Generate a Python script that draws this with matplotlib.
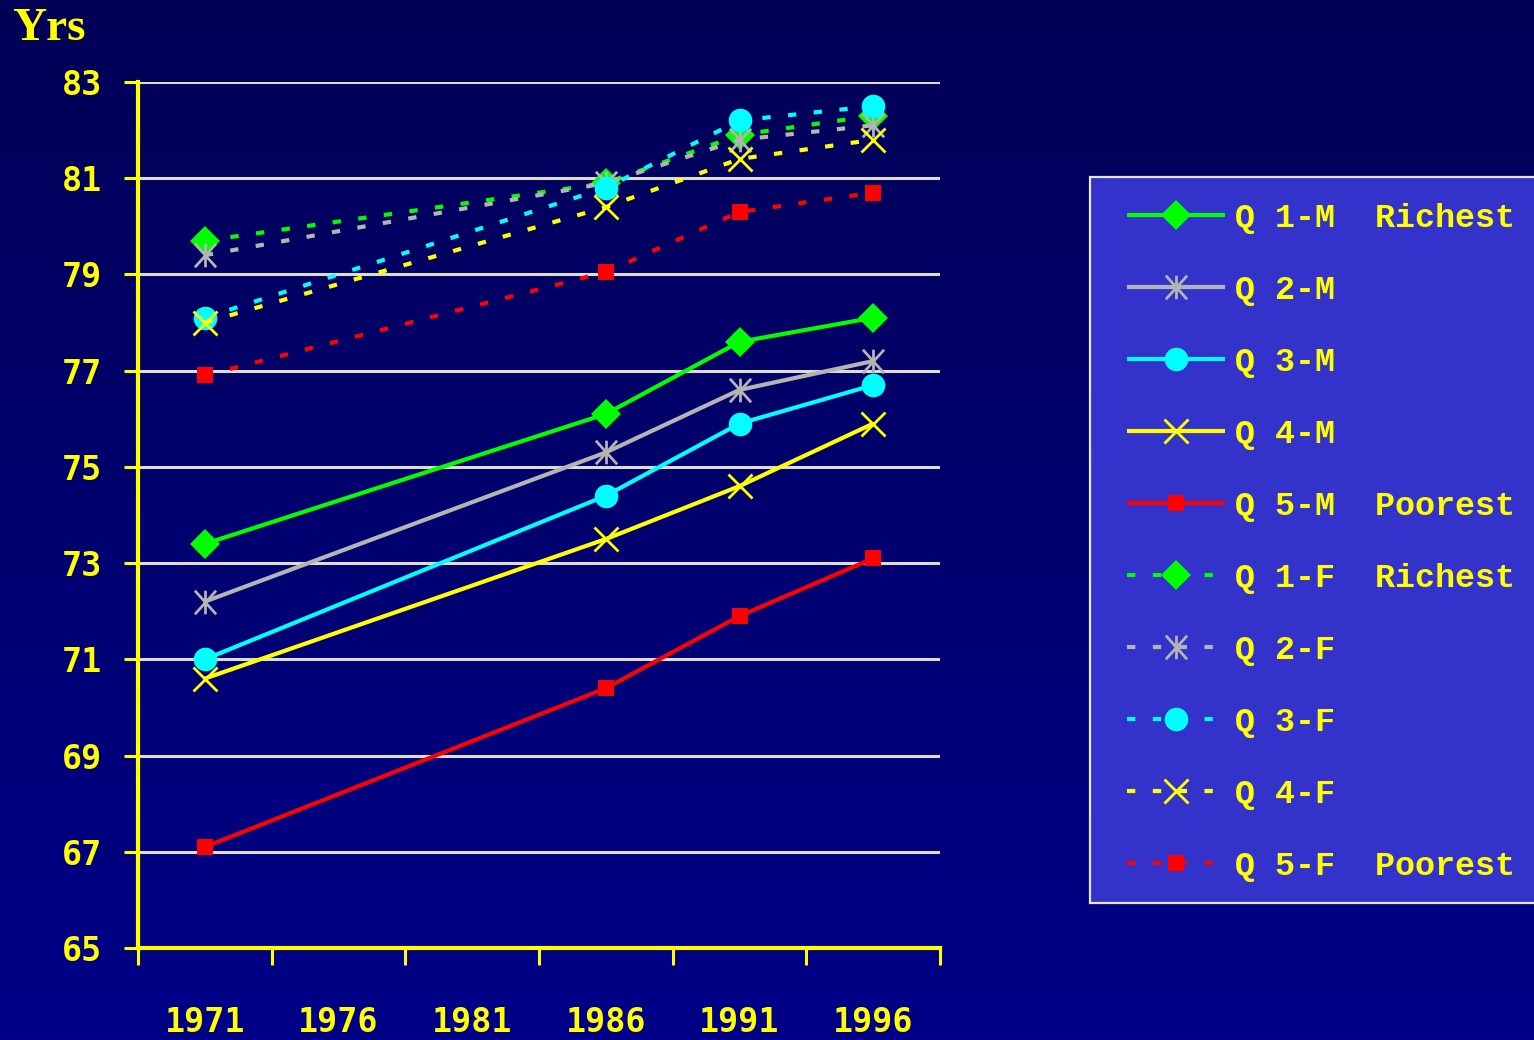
import numpy as np
import matplotlib
matplotlib.use("Agg")
import matplotlib.pyplot as plt
from matplotlib.path import Path
from matplotlib.patches import Rectangle

# Life expectancy by income quintile, males and females
years = ["1971", "1976", "1981", "1986", "1991", "1996"]
data_years = [0, 3, 4, 5]  # census years with data (1971, 1986, 1991, 1996)

q1_m = [73.4, 76.1, 77.6, 78.1]
q2_m = [72.2, 75.3, 76.6, 77.2]
q3_m = [71.0, 74.4, 75.9, 76.7]
q4_m = [70.6, 73.5, 74.6, 75.9]
q5_m = [67.1, 70.4, 71.9, 73.1]

q1_f = [79.7, 80.9, 81.9, 82.3]
q2_f = [79.4, 80.9, 81.8, 82.1]
q3_f = [78.1, 80.8, 82.2, 82.5]
q4_f = [78.0, 80.4, 81.4, 81.8]
q5_f = [76.9, 79.05, 80.3, 80.7]

labels_m = ["Q 1-M  Richest", "Q 2-M", "Q 3-M", "Q 4-M", "Q 5-M  Poorest"]
labels_f = ["Q 1-F  Richest", "Q 2-F", "Q 3-F", "Q 4-F", "Q 5-F  Poorest"]

YELLOW = "#FFFF00"
colors = ["#00FF00", "#B4B4B4", "#00FFFF", "#FFFF00", "#FF0000"]

# asterisk marker: vertical bar plus an X
star = Path([(0, -1), (0, 1), (-0.9, -1), (0.9, 1), (-0.9, 1), (0.9, -1)],
            [Path.MOVETO, Path.LINETO, Path.MOVETO, Path.LINETO, Path.MOVETO, Path.LINETO])
markers = [
    dict(marker="D", ms=15, mew=0),
    dict(marker=star, ms=17, mew=2, mfc="none"),
    dict(marker="o", ms=17, mew=0),
    dict(marker="x", ms=17, mew=2),
    dict(marker="s", ms=12, mew=0),
]

fig = plt.figure(figsize=(15.34, 10.40), dpi=100)

# dark blue vertical gradient behind everything
bg = fig.add_axes([0, 0, 1, 1], zorder=-10)
grad = np.linspace(0, 1, 256).reshape(-1, 1)
top = np.array([0, 0, 0x56]) / 255
bot = np.array([0, 0, 0x88]) / 255
img = top + (bot - top) * grad[:, :, None]
bg.imshow(img, aspect="auto", extent=[0, 1, 0, 1])
bg.axis("off")

ax = fig.add_axes([138 / 1534, 92 / 1040, 802 / 1534, 866 / 1040])
ax.patch.set_alpha(0)

handles = []
for vals, col, mk, lab in zip([q1_m, q2_m, q3_m, q4_m, q5_m], colors, markers, labels_m):
    h, = ax.plot(data_years, vals, color=col, lw=3, mfc=mk.get("mfc", col),
                 mec=col, marker=mk["marker"], ms=mk["ms"], mew=mk["mew"], label=lab,
                 solid_capstyle="butt")
    handles.append(h)
for vals, col, mk, lab in zip([q1_f, q2_f, q3_f, q4_f, q5_f], colors, markers, labels_f):
    h, = ax.plot(data_years, vals, color=col, lw=3, ls=(0, (2.0, 4.2)), mfc=mk.get("mfc", col),
                 mec=col, marker=mk["marker"], ms=mk["ms"], mew=mk["mew"], label=lab,
                 dash_capstyle="butt")
    handles.append(h)

ax.set_xlim(-0.5, 5.5)
ax.set_ylim(65, 83)

# y axis
ax.set_yticks(np.arange(65, 84, 2))
ax.set_yticklabels([str(v) for v in range(65, 84, 2)],
                   family="DejaVu Sans Mono", fontweight="bold", fontsize=24, color=YELLOW)
ax.tick_params(axis="y", direction="out", length=10, width=2.2, color=YELLOW, pad=16)
for v in range(67, 84, 2):
    ax.axhline(v, color="#DEDCCB", lw=2.2, zorder=0.5)

# x axis: ticks between categories, labels centred on them
ax.set_xticks(np.arange(-0.5, 6, 1))
ax.set_xticklabels([])
ax.set_xticks(range(len(years)), minor=True)
ax.set_xticklabels(years, minor=True,
                   family="DejaVu Sans Mono", fontweight="bold", fontsize=24, color=YELLOW)
ax.tick_params(axis="x", which="major", direction="out", length=12, width=2.2, color=YELLOW)
ax.tick_params(axis="x", which="minor", length=0, pad=42)

for side in ["top", "right"]:
    ax.spines[side].set_visible(False)
for side in ["left", "bottom"]:
    ax.spines[side].set_color(YELLOW)
    ax.spines[side].set_linewidth(3)

fig.text(12 / 1534, 1 - 40 / 1040, "Yrs", family="Liberation Serif", fontweight="bold",
         fontsize=34, color=YELLOW, va="baseline", ha="left")

# legend panel
fig.add_artist(Rectangle((1090 / 1534, 1 - 903 / 1040), 0.5, (903 - 177) / 1040,
                         transform=fig.transFigure, facecolor="#3333CC",
                         edgecolor="#E6E6E6", lw=1.6, zorder=1))
leg = fig.legend(handles=handles, loc="upper left", bbox_to_anchor=(1127 / 1534, 1 - 203 / 1040),
                 frameon=False, borderpad=0, borderaxespad=0, handlelength=2.95,
                 handletextpad=0.3, labelspacing=1.23,
                 prop=dict(family="Liberation Mono", weight="bold", size=24))
leg.set_zorder(2)
for t in leg.get_texts():
    t.set_color(YELLOW)

fig.savefig("out.png", dpi=100)
